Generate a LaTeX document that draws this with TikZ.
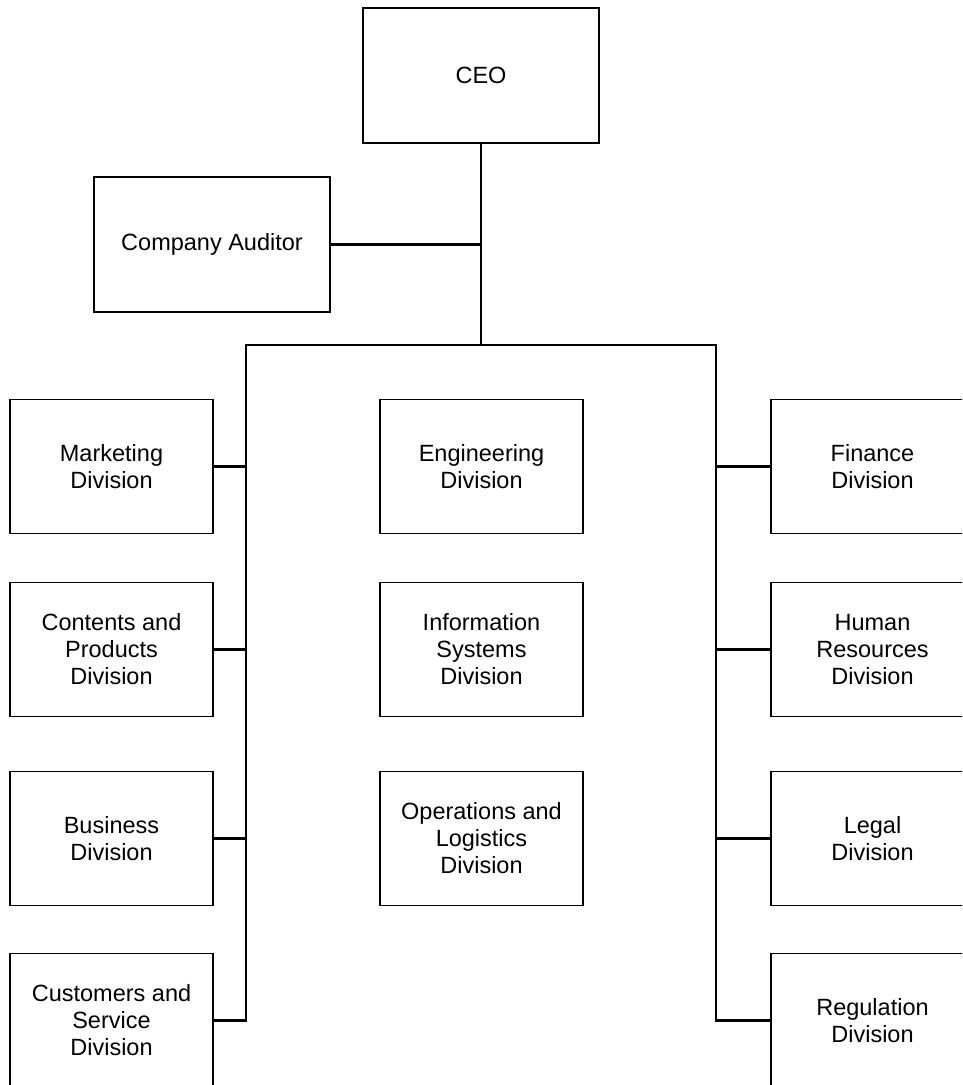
\documentclass[tikz,border=0pt]{standalone}
\usepackage{fontspec}
\setmainfont{Liberation Sans}
\usepackage{tikz}
\usetikzlibrary{positioning}

\begin{document}
\begin{tikzpicture}[x=1pt,y=-1pt,node distance=49pt,
                    font=\fontsize{23.5}{27}\selectfont]
  \tikzstyle{unit}=[draw,line width=1.3pt,outer sep=0pt,align=center,
                    minimum width=203pt,minimum height=134pt]
  \tikzstyle{head}=[unit,minimum width=236pt,minimum height=135pt]
  \tikzstyle{link}=[line width=2.6pt,line cap=rect]

  \clip (0,0) rectangle (962,1085);

  \node[head] (ceo) at (481,75.5)  {CEO};
  \node[head] (aud) at (212,244.5) {Company Auditor};

  \node[unit] (mkt) at (111.5,466.5)          {Marketing\\Division};
  \node[unit] (cnt) [below=49pt of mkt]       {Contents and\\Products\\Division};
  \node[unit] (bus) [below=55pt of cnt]       {Business\\Division};
  \node[unit] (cst) [below=48pt of bus]       {Customers and\\Service\\Division};

  \node[unit] (eng) [right=167pt of mkt]      {Engineering\\Division};
  \node[unit] (inf) [right=167pt of cnt]      {Information\\Systems\\Division};
  \node[unit] (ops) [right=167pt of bus]      {Operations and\\Logistics\\Division};

  \node[unit] (fin) [right=188pt of eng]      {Finance\\Division};
  \node[unit] (hrd) [right=188pt of inf]      {Human\\Resources\\Division};
  \node[unit] (leg) [right=188pt of ops]      {Legal\\Division};
  \node[unit] (reg) [below=48pt of leg]       {Regulation\\Division};

  \coordinate (busL) at (246,345);
  \coordinate (busR) at (716,345);

  \draw[link] (ceo.south) -- (ceo.south |- busL);
  \draw[link] (aud.east) -- (aud.east -| ceo.south);
  \draw[link] (cst.east) -- (cst.east -| busL) -- (busL) -- (busR)
              -- (reg.west -| busR) -- (reg.west);
  \foreach \n in {mkt,cnt,bus}
    \draw[link] (\n.east) -- (\n.east -| busL);
  \foreach \n in {fin,hrd,leg}
    \draw[link] (\n.west) -- (\n.west -| busR);
\end{tikzpicture}
\end{document}
